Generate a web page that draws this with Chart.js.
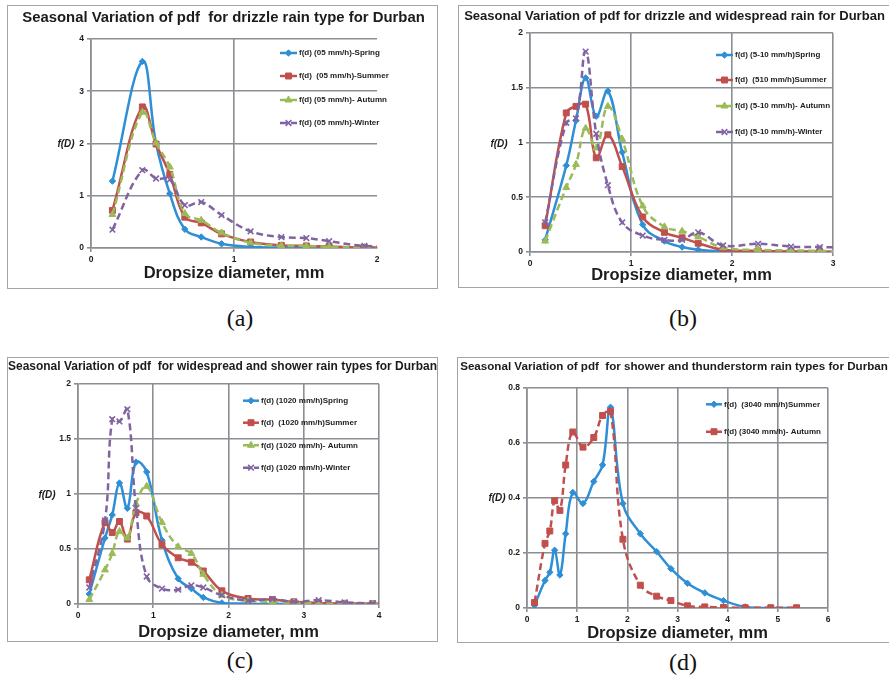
<!DOCTYPE html>
<html>
<head>
<meta charset="utf-8">
<script src="https://cdn.jsdelivr.net/npm/chart.js@4.4.1/dist/chart.umd.min.js"></script>
<style>
  html, body { margin: 0; padding: 0; background: #fff; }
  body { width: 889px; height: 678px; position: relative; overflow: hidden; }
  .panel { position: absolute; border: 1px solid #a4a4a4; box-sizing: border-box; }
  .panel canvas { position: absolute; left: 0; top: 0; }
  .caption { position: absolute; font-family: "Liberation Serif", "Times New Roman", serif; font-size: 24px; color: #111;
             transform: translate(-50%, -50%); white-space: nowrap; }
</style>
</head>
<body>
<div class="caption" style="left:240px;top:318px">(a)</div>
<div class="caption" style="left:683px;top:318px">(b)</div>
<div class="caption" style="left:240px;top:660px">(c)</div>
<div class="caption" style="left:683px;top:662px">(d)</div>
<script>
// drop diameter bins (mm), shared by all four plots
const DIAMETERS = [0.15, 0.359, 0.455, 0.551, 0.656, 0.771, 0.913, 1.116, 1.331, 1.506, 1.665,
                   1.912, 2.259, 2.584, 2.869, 3.198, 3.544, 3.916, 4.35, 4.859, 5.373];

// (a) drizzle, 0-5 mm/h
const A_SPRING = [1.28, 3.57, 2.0, 1.04, 0.36, 0.21, 0.08, 0.02, 0.01, 0.005, 0, 0, 0];
const A_SUMMER = [0.72, 2.70, 1.99, 1.41, 0.59, 0.48, 0.27, 0.115, 0.05, 0.04, 0.03, 0.01, 0.01];
const A_AUTUMN = [0.64, 2.60, 2.01, 1.55, 0.66, 0.53, 0.29, 0.10, 0.045, 0.04, 0.02, 0.01, 0.005];
const A_WINTER = [0.35, 1.49, 1.33, 1.31, 0.82, 0.88, 0.63, 0.32, 0.21, 0.19, 0.13, 0.04, 0.02];

// (b) drizzle and widespread, 5-10 mm/h
const B_SPRING = [0.11, 0.79, 1.2, 1.59, 1.24, 1.47, 0.91, 0.25, 0.10, 0.045, 0.02, 0.005, 0, 0, 0, 0];
const B_SUMMER = [0.24, 1.27, 1.33, 1.35, 0.86, 1.07, 0.78, 0.32, 0.18, 0.13, 0.08, 0.02, 0.01, 0.005, 0.003, 0];
const B_AUTUMN = [0.10, 0.59, 0.80, 1.13, 0.95, 1.33, 1.03, 0.42, 0.23, 0.19, 0.14, 0.04, 0.02, 0.015, 0.01, 0.005];
const B_WINTER = [0.27, 1.18, 1.22, 1.83, 1.08, 0.61, 0.27, 0.15, 0.11, 0.11, 0.18, 0.06, 0.075, 0.05, 0.045, 0.04];

// (c) widespread and shower, 10-20 mm/h
const C_SPRING = [0.09, 0.60, 0.81, 1.10, 0.87, 1.29, 1.20, 0.58, 0.23, 0.14, 0.06, 0.01, 0.003, 0, 0, 0, 0, 0, 0];
const C_SUMMER = [0.22, 0.74, 0.65, 0.75, 0.59, 0.83, 0.80, 0.54, 0.42, 0.38, 0.30, 0.12, 0.05, 0.04, 0.02, 0.01, 0.005, 0.003, 0];
const C_AUTUMN = [0.04, 0.31, 0.46, 0.66, 0.60, 0.91, 1.07, 0.74, 0.52, 0.46, 0.27, 0.08, 0.03, 0.02, 0.01, 0.005, 0.002, 0, 0];
const C_WINTER = [0.15, 0.76, 1.68, 1.66, 1.77, 0.87, 0.25, 0.14, 0.13, 0.17, 0.15, 0.08, 0.03, 0.045, 0.02, 0.035, 0.015, 0.005, 0];

// (d) shower and thunderstorm, 30-40 mm/h
const D_SUMMER = [0.01, 0.10, 0.13, 0.21, 0.12, 0.27, 0.42, 0.38, 0.46, 0.52, 0.73, 0.38, 0.27, 0.205, 0.143,
                  0.09, 0.055, 0.027, 0.004, 0, 0];
const D_AUTUMN = [0.02, 0.235, 0.28, 0.39, 0.355, 0.52, 0.64, 0.585, 0.62, 0.70, 0.715, 0.25, 0.083, 0.043, 0.027,
                  0.008, 0.004, 0.002, 0.001, 0.001, 0.001];

const X_TITLE = 'Dropsize diameter, mm';
const GRID = '#8b8e93';
const INK = '#1c1c1c';
const SANS = '"Liberation Sans", Arial, sans-serif';

const STYLE = {
  spring: { color: '#2e8fd6', point: 'rectRot', r: 3.2, dash: [] },
  summer: { color: '#c0504d', point: 'rect', r: 4.2, dash: [] },
  autumn: { color: '#9bbb59', point: 'triangle', r: 4, dash: [7, 4] },
  winter: { color: '#8064a2', point: 'crossRot', r: 4, dash: [7, 4] },
};
STYLE.summerDash = { ...STYLE.summer, dash: [7, 4] };

const PANELS = [
  {
    title: 'Seasonal Variation of pdf  for drizzle rain type for Durban', titleW: 403, titleX: 223.5, titleY: 17.5,
    box: [7, 5, 438, 289], area: [91, 39, 377, 248], xTitleY: 273,
    xMax: 2, yMax: 4, yStep: 1, hideRight: true,
    legend: { x0: 280, x1: 297, tx: 299, rows: [53, 76, 100, 123] }, fd: [66, 144],
    series: [
      ['f(d) (05 mm/h)-Spring', A_SPRING, 'spring'],
      ['f(d)  (05 mm/h)-Summer', A_SUMMER, 'summer'],
      ['f(d) (05 mm/h)- Autumn', A_AUTUMN, 'autumn'],
      ['f(d) (05 mm/h)-Winter', A_WINTER, 'winter'],
    ],
  },
  {
    title: 'Seasonal Variation of pdf for drizzle and widespread rain for Durban', titleW: 421, titleX: 674.5, titleY: 16,
    box: [458, 5, 892, 288], area: [530, 33, 833, 252], xTitleY: 275,
    xMax: 3, yMax: 2, yStep: 0.5,
    legend: { x0: 716, x1: 733, tx: 735, rows: [55, 80, 106, 132] }, fd: [499, 144],
    series: [
      ['f(d) (5-10 mm/h)Spring', B_SPRING, 'spring'],
      ['f(d)  (510 mm/h)Summer', B_SUMMER, 'summer'],
      ['f(d) (5-10 mm/h)- Autumn', B_AUTUMN, 'autumn'],
      ['f(d) (5-10 mm/h)-Winter', B_WINTER, 'winter'],
    ],
  },
  {
    title: 'Seasonal Variation of pdf  for widespread and shower rain types for Durban', titleW: 429, titleX: 222.5, titleY: 367,
    box: [7, 357, 438, 642], area: [78, 384, 379, 604], xTitleY: 632,
    xMax: 4, yMax: 2, yStep: 0.5,
    legend: { x0: 243, x1: 259, tx: 261, rows: [400.7, 422.7, 445.3, 467.7] }, fd: [47, 495.7],
    series: [
      ['f(d) (1020 mm/h)Spring', C_SPRING, 'spring'],
      ['f(d)  (1020 mm/h)Summer', C_SUMMER, 'summer'],
      ['f(d) (1020 mm/h)- Autumn', C_AUTUMN, 'autumn'],
      ['f(d) (1020 mm/h)-Winter', C_WINTER, 'winter'],
    ],
  },
  {
    title: 'Seasonal Variation of pdf  for shower and thunderstorm rain types for Durban', titleW: 428, titleX: 674, titleY: 367,
    box: [457, 357, 892, 643], area: [527, 388, 828, 608], xTitleY: 633,
    xMax: 6, yMax: 0.8, yStep: 0.2,
    legend: { x0: 706, x1: 722, tx: 724, rows: [404.3, 431.7] }, fd: [497, 498],
    series: [
      ['f(d)  (3040 mm/h)Summer', D_SUMMER, 'spring'],
      ['f(d) (3040 mm/h)- Autumn', D_AUTUMN, 'summerDash'],
    ],
  },
];

// chart title, legend inside the plot (as in the Excel original) and the horizontal f(D) label
const excelDecor = {
  id: 'excelDecor',
  afterDraw(chart, args, o) {
    const ctx = chart.ctx;
    ctx.save();
    ctx.fillStyle = INK;
    ctx.textAlign = 'center';
    ctx.textBaseline = 'middle';
    ctx.font = 'bold 14px ' + SANS;
    const size = 14 * o.titleW / ctx.measureText(o.title).width;
    ctx.font = 'bold ' + size.toFixed(2) + 'px ' + SANS;
    ctx.fillText(o.title, o.titleX, o.titleY);

    chart.data.datasets.forEach((ds, i) => {
      const y = o.rows[i];
      ctx.strokeStyle = ds.borderColor;
      ctx.lineWidth = ds.borderWidth;
      ctx.setLineDash(ds.borderDash);
      ctx.beginPath(); ctx.moveTo(o.x0, y); ctx.lineTo(o.x1, y); ctx.stroke();
      ctx.setLineDash([]);
      ctx.fillStyle = ds.pointBackgroundColor;
      ctx.strokeStyle = ds.pointBorderColor;
      ctx.lineWidth = ds.pointBorderWidth;
      Chart.helpers.drawPoint(ctx, { pointStyle: ds.pointStyle, radius: ds.pointRadius, rotation: 0,
        borderWidth: ds.pointBorderWidth }, (o.x0 + o.x1) / 2, y);
      ctx.fillStyle = INK;
      ctx.font = 'bold 8px ' + SANS;
      ctx.textAlign = 'left';
      ctx.fillText(ds.label, o.tx, y);
    });
    ctx.font = 'italic bold 10px ' + SANS;
    ctx.textAlign = 'center';
    ctx.fillText('f(D)', o.fd[0], o.fd[1]);
    ctx.restore();
  },
};

function buildPanel(p) {
  const [bl, bt, br, bb] = p.box;
  const div = document.createElement('div');
  div.className = 'panel';
  Object.assign(div.style, { left: bl + 'px', top: bt + 'px', width: (br - bl) + 'px', height: (bb - bt) + 'px' });
  const canvas = document.createElement('canvas');
  const cw = br - bl - 2, ch = bb - bt - 2;
  canvas.width = cw; canvas.height = ch;
  canvas.style.width = cw + 'px'; canvas.style.height = ch + 'px';
  div.appendChild(canvas);
  document.body.appendChild(div);

  const ox = bl + 1, oy = bt + 1;
  const aL = p.area[0] - ox, aT = p.area[1] - oy, aR = p.area[2] - ox, aB = p.area[3] - oy;
  const xFont = 16.5, xLh = xFont * 1.2;

  const n = p.series.length;
  const datasets = p.series.map(([label, vals, key], i) => {
    const s = STYLE[key];
    return {
      label,
      data: vals.map((y, k) => ({ x: DIAMETERS[k], y })),
      borderColor: s.color,
      backgroundColor: s.color,
      borderWidth: 2.5,
      borderDash: s.dash,
      tension: 0.4,
      pointStyle: s.point,
      pointRadius: s.r,
      pointBackgroundColor: s.color,
      pointBorderColor: s.color,
      pointBorderWidth: s.point === 'crossRot' ? 1.6 : 1,
      order: n - i,
    };
  });

  const tickFont = { family: SANS, size: 8.5, weight: 'bold' };
  new Chart(canvas, {
    type: 'line',
    data: { datasets },
    plugins: [excelDecor],
    options: {
      responsive: false,
      animation: false,
      events: [],
      layout: { padding: { left: 0, right: cw - aR, top: aT, bottom: 0 } },
      plugins: {
        legend: { display: false },
        tooltip: { enabled: false },
        title: { display: false },
        excelDecor: {
          title: p.title, titleW: p.titleW, titleX: p.titleX - ox, titleY: p.titleY - oy,
          x0: p.legend.x0 - ox, x1: p.legend.x1 - ox, tx: p.legend.tx - ox,
          rows: p.legend.rows.map(r => r - oy), fd: [p.fd[0] - ox, p.fd[1] - oy],
        },
      },
      scales: {
        x: {
          type: 'linear', min: 0, max: p.xMax,
          afterFit: s => { s.height = ch - aB; },
          ticks: { stepSize: 1, color: INK, font: tickFont, padding: 3, maxRotation: 0 },
          grid: {
            color: c => (p.hideRight && c.tick && c.tick.value === p.xMax) ? 'rgba(0,0,0,0)' : GRID,
            lineWidth: 1.6, tickLength: 4,
          },
          border: { color: GRID, width: 1.6 },
          title: {
            display: true, text: X_TITLE, color: INK,
            font: { family: SANS, size: xFont, weight: 'bold' },
            padding: { top: 0, bottom: ch - (p.xTitleY - oy) - xLh / 2 },
          },
        },
        y: {
          min: 0, max: p.yMax,
          afterFit: s => { s.width = aL; },
          ticks: {
            stepSize: p.yStep, color: INK, font: tickFont, padding: 3,
            callback: v => String(Math.round(v * 10) / 10),
          },
          grid: { color: GRID, lineWidth: 1.6, tickLength: 4 },
          border: { color: GRID, width: 1.6 },
        },
      },
    },
  });
}

PANELS.forEach(buildPanel);
</script>
</body>
</html>
